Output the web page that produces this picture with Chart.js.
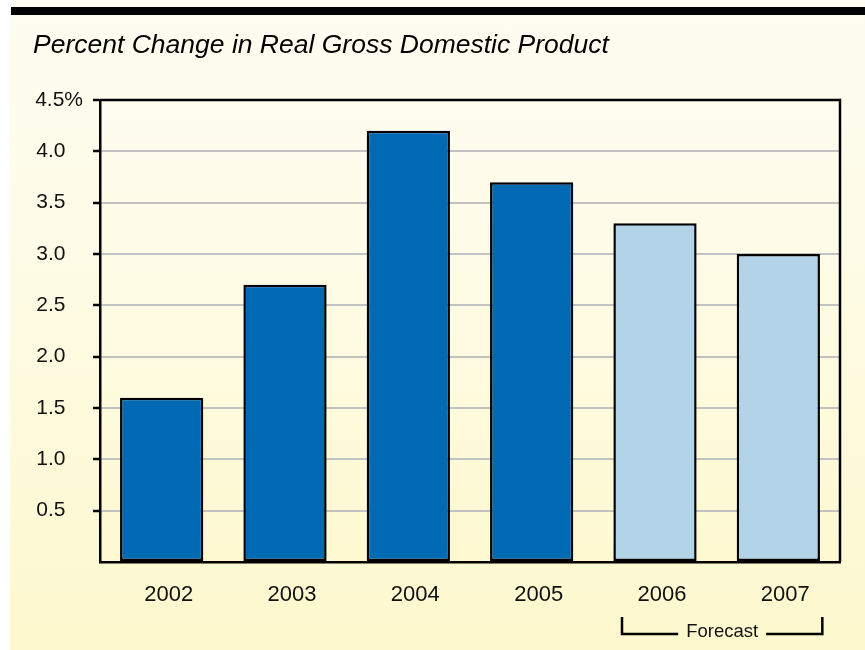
<!DOCTYPE html>
<html>
<head>
<meta charset="utf-8">
<script src="https://cdn.jsdelivr.net/npm/chart.js@4.4.1/dist/chart.umd.min.js"></script>
<style>
  html, body { margin: 0; padding: 0; background: #fff; }
  #wrap { position: relative; width: 865px; height: 650px; overflow: hidden; }
  #panel {
    position: absolute; left: 10px; top: 0; width: 855px; height: 650px;
    background: linear-gradient(to bottom, #fefdf2 0%, #fefbe4 45%, #fdf8cd 100%);
  }
  #rule { position: absolute; left: 11px; top: 7px; right: 0; height: 8px; background: #000; }
  #gdp { position: absolute; left: 0; top: 0; }
</style>
</head>
<body>
<div id="wrap">
  <div id="panel"></div>
  <div id="rule"></div>
  <canvas id="gdp" width="865" height="650"></canvas>
</div>
<script>
const years = ['2002', '2003', '2004', '2005', '2006', '2007'];
const gdpChange = [1.6, 2.7, 4.2, 3.7, 3.3, 3.0];
const isForecast = [false, false, false, false, true, true];
const yTicks = [0, 0.5, 1.0, 1.5, 2.0, 2.5, 3.0, 3.5, 4.0, 4.5];

const actualColor = '#0069b3';
const forecastColor = '#b3d3e8';
const font = '"Liberation Sans", Arial, Helvetica, sans-serif';

// plot area fill, drawn under the grid
const plotBackground = {
    id: 'plotBackground',
    beforeDraw(chart) {
        const { ctx, chartArea: a } = chart;
        const g = ctx.createLinearGradient(0, a.top, 0, a.bottom);
        g.addColorStop(0, '#fffdf0');
        g.addColorStop(0.5, '#fefbe2');
        g.addColorStop(1, '#fef9d0');
        ctx.save();
        ctx.fillStyle = g;
        ctx.fillRect(a.left, a.top, a.right - a.left, a.bottom - a.top);
        ctx.restore();
    }
};

// right edge of the frame plus the "Forecast" bracket under the last two years
const frameAndBracket = {
    id: 'frameAndBracket',
    afterDraw(chart) {
        const { ctx, chartArea: a, scales } = chart;
        ctx.save();
        ctx.strokeStyle = '#000';
        ctx.lineWidth = 2.5;
        ctx.beginPath();
        ctx.moveTo(a.left, a.top);
        ctx.lineTo(a.right, a.top);
        ctx.lineTo(a.right, a.bottom);
        ctx.stroke();

        const first = isForecast.indexOf(true);
        const last = isForecast.lastIndexOf(true);
        const x0 = scales.x.getPixelForValue(first) - 33;
        const x1 = scales.x.getPixelForValue(last) + 44;
        const yTop = a.bottom + 55;
        const yBot = a.bottom + 72;
        const mid = (x0 + x1) / 2;

        ctx.font = '18.5px ' + font;
        ctx.fillStyle = '#111';
        ctx.textAlign = 'center';
        ctx.textBaseline = 'middle';
        ctx.fillText('Forecast', mid, yBot - 2);
        const half = ctx.measureText('Forecast').width / 2 + 8;

        ctx.lineWidth = 2.5;
        ctx.beginPath();
        ctx.moveTo(x0, yTop);
        ctx.lineTo(x0, yBot);
        ctx.lineTo(mid - half, yBot);
        ctx.moveTo(mid + half, yBot);
        ctx.lineTo(x1, yBot);
        ctx.lineTo(x1, yTop);
        ctx.stroke();
        ctx.restore();
    }
};

new Chart(document.getElementById('gdp'), {
    type: 'bar',
    data: {
        labels: years,
        datasets: [{
            data: gdpChange,
            backgroundColor: isForecast.map(f => f ? forecastColor : actualColor),
            borderColor: '#000',
            borderWidth: 2.5,
            borderSkipped: false,
            categoryPercentage: 1,
            barPercentage: 0.675
        }]
    },
    options: {
        responsive: false,
        animation: false,
        layout: { padding: { left: 33, right: 25, top: 0, bottom: 0 } },
        plugins: {
            legend: { display: false },
            tooltip: { enabled: false },
            title: {
                display: true,
                text: 'Percent Change in Real Gross Domestic Product',
                align: 'start',
                color: '#000',
                font: { family: font, size: 26.5, style: 'italic', weight: 'normal' },
                padding: { top: 30, bottom: 38.2 }
            }
        },
        scales: {
            x: {
                grid: { display: false },
                border: { color: '#000', width: 2.5 },
                ticks: {
                    color: '#111',
                    font: { family: font, size: 22 },
                    padding: 12,
                    labelOffset: 7
                },
                afterFit(scale) { scale.height = 88; }
            },
            y: {
                min: 0,
                max: 4.5,
                afterBuildTicks(scale) { scale.ticks = yTicks.map(v => ({ value: v })); },
                grid: {
                    color: ctx => ctx.tick && ctx.tick.value === 4.5 ? '#000' : '#c2c2c2',
                    lineWidth: 2,
                    tickLength: 7,
                    tickColor: ctx => ctx.tick && ctx.tick.value === 0 ? 'rgba(0,0,0,0)' : '#000',
                    tickWidth: 2.5
                },
                border: { color: '#000', width: 2.5 },
                ticks: {
                    color: '#111',
                    font: { family: font, size: 21 },
                    padding: 10,
                    callback(v) {
                        if (v === 0) return '';
                        if (v === 4.5) return v.toFixed(1) + '%';
                        return v.toFixed(1) + '   ';
                    }
                },
                afterFit(scale) { scale.width = 67; }
            }
        }
    },
    plugins: [plotBackground, frameAndBracket]
});
</script>
</body>
</html>
